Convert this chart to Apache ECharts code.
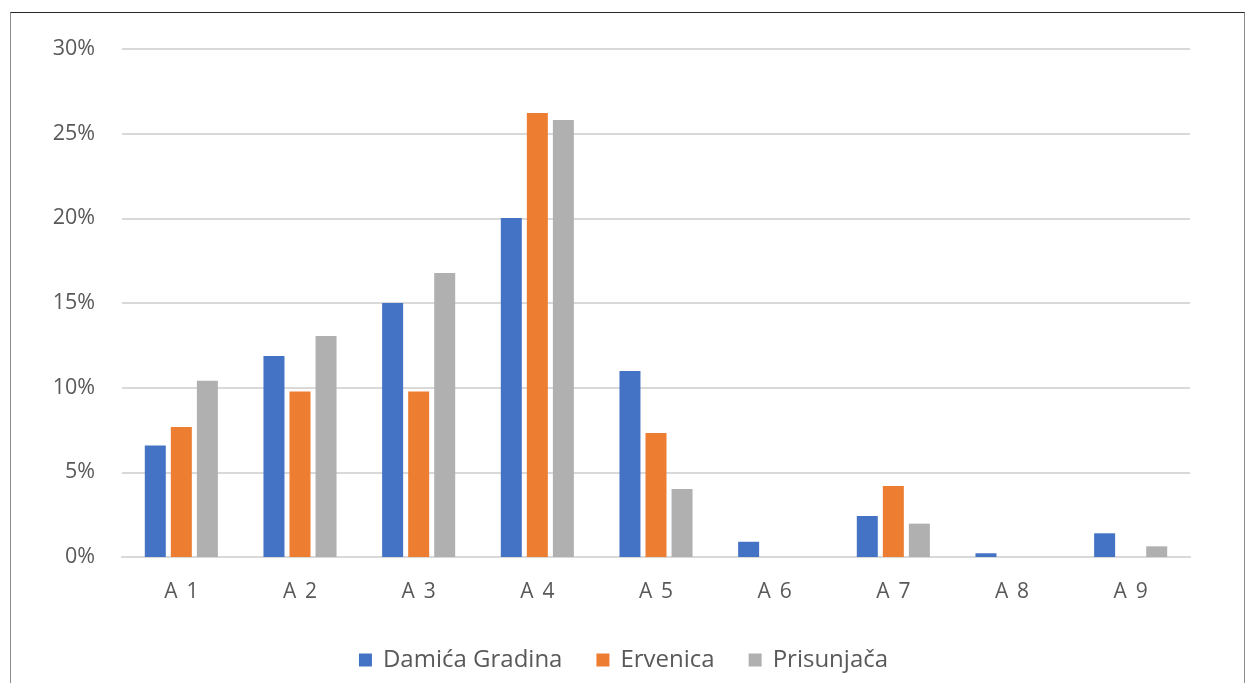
<!DOCTYPE html>
<html>
<head>
<meta charset="utf-8">
<script src="https://cdn.jsdelivr.net/npm/echarts@6/dist/echarts.min.js"></script>
<style>
html,body{margin:0;padding:0;background:#fff;}
#chart{width:1247px;height:683px;}
#frame{position:absolute;left:10px;top:12px;width:1235px;height:680px;border-top:1.5px solid #262626;border-left:1.5px solid #8c8c8c;border-right:1.5px solid #8c8c8c;pointer-events:none;box-sizing:border-box;}
</style>
</head>
<body>
<div id="chart"></div>
<div id="frame"></div>
<script>
const categories = ['A 1','A 2','A 3','A 4','A 5','A 6','A 7','A 8','A 9'];
const damica = [6.58, 11.87, 15.0, 20.02, 10.99, 0.9, 2.42, 0.22, 1.4];
const ervenica = [7.68, 9.78, 9.78, 26.22, 7.32, 0, 4.19, 0, 0];
const prisunjaca = [10.41, 13.05, 16.77, 25.81, 4.02, 0, 1.97, 0, 0.63];
const seriesNames = ['Damića Gradina','Ervenica','Prisunjača'];
const colors = ['#4472C4','#ED7D31','#B0B0B0'];

const chart = echarts.init(document.getElementById('chart'));
const font = 'Open Sans, Liberation Sans, sans-serif';
function mk(name, data, color){
  return {name, type:'bar', data, barWidth:21, barGap:'24%',
    itemStyle:{color}};
}
chart.setOption({
  animation:false,
  grid:{left:122, right:57, top:49, bottom:126},
  legend:{top:643, left:'center', itemWidth:13, itemHeight:13, itemGap:34,
    icon:'rect',
    textStyle:{fontFamily:font, fontSize:24, color:'#595959', padding:[0,0,0,6]},
    data:seriesNames},
  xAxis:{type:'category', data:categories,
    axisLine:{lineStyle:{color:'#d9d9d9', width:2}},
    axisTick:{show:false},
    axisLabel:{fontFamily:font, fontSize:21, color:'#595959', margin:25,
      formatter:v=>v.replace(' ','\u2009 ')}},
  yAxis:{type:'value', min:0, max:30, interval:5,
    axisLine:{show:false}, axisTick:{show:false},
    splitLine:{lineStyle:{color:'#d9d9d9', width:2}},
    axisLabel:{fontFamily:font, fontSize:21.5, color:'#595959', margin:27, formatter:v=>v+'%'}},
  series:[mk(seriesNames[0], damica, colors[0]), mk(seriesNames[1], ervenica, colors[1]), mk(seriesNames[2], prisunjaca, colors[2])]
});
</script>
</body>
</html>
